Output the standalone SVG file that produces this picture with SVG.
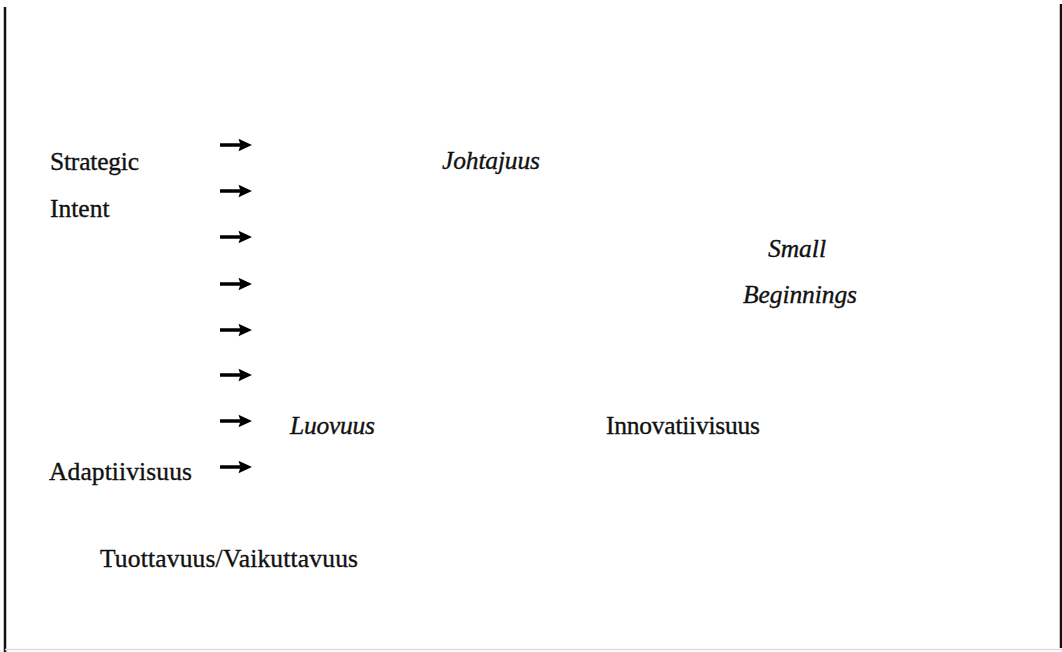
<svg xmlns="http://www.w3.org/2000/svg" width="1062" height="652" viewBox="0 0 1062 652">
<style>
.t{font-family:"Liberation Serif","Times New Roman",serif;font-size:25.5px;fill:#111;stroke:#111;stroke-width:0.35}
.i{font-style:italic}
.frame{stroke:#111;stroke-width:2.5;fill:none}
</style>
<defs>
<path id="ah" d="M0,-1.7 L20,-1.7 L18.5,-6.3 L32,0 L18.5,6.3 L20,1.7 L0,1.7 Z" fill="#000"/>
</defs>
<rect width="1062" height="652" fill="#fff"/>
<g id="frame">
<line class="frame" x1="5" y1="7" x2="5" y2="652"/>
<line class="frame" x1="1061" y1="4" x2="1061" y2="648"/>
<line x1="5" y1="649.5" x2="1062" y2="649.5" stroke="#ddd" stroke-width="1.5"/>
</g>
<g id="connectors">
<use href="#ah" x="220" y="145"/>
<use href="#ah" x="220" y="191"/>
<use href="#ah" x="220" y="237"/>
<use href="#ah" x="220" y="284"/>
<use href="#ah" x="220" y="330"/>
<use href="#ah" x="220" y="375"/>
<use href="#ah" x="220" y="421"/>
<use href="#ah" x="220" y="467"/>
</g>
<g id="strategic-intent">
<text class="t" x="50" y="170" textLength="89">Strategic</text>
<text class="t" x="50" y="217">Intent</text>
</g>
<g id="johtajuus"><text class="t i" x="442" y="169" textLength="98">Johtajuus</text></g>
<g id="small-beginnings">
<text class="t i" x="768" y="257" textLength="58">Small</text>
<text class="t i" x="743" y="303" textLength="114">Beginnings</text>
</g>
<g id="luovuus"><text class="t i" x="290" y="434" textLength="85">Luovuus</text></g>
<g id="innovatiivisuus"><text class="t" x="606" y="434" textLength="154">Innovatiivisuus</text></g>
<g id="adaptiivisuus"><text class="t" x="49" y="480" textLength="143">Adaptiivisuus</text></g>
<g id="tuottavuus"><text class="t" x="100" y="567" textLength="258">Tuottavuus/Vaikuttavuus</text></g>
</svg>
